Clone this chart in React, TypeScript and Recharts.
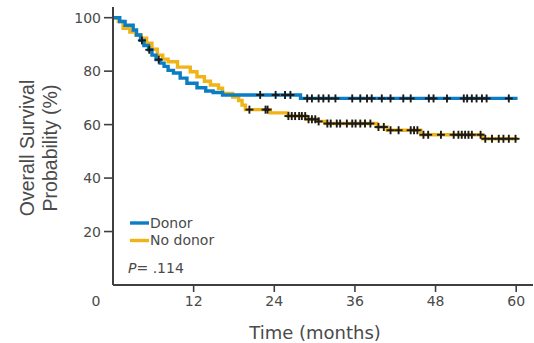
import React from "react";
import { ComposedChart, Line, Scatter, XAxis, YAxis } from "recharts";

// Kaplan–Meier step points (months, survival %)
const donorTimes = [0, 1.0, 1.8, 3.0, 3.5, 4.1, 4.6, 5.3, 5.8, 6.4, 7.0, 7.6, 8.2, 9.0, 10.0, 11.0, 12.5, 13.8, 14.9, 16.3, 27.9, 60.2];
const donorSurv = [100, 98.6, 97.2, 95.4, 93.5, 91.5, 89.6, 88.0, 86.0, 84.3, 83.0, 81.8, 80.3, 79.3, 77.4, 75.5, 73.8, 72.6, 72.0, 71.1, 69.8, 69.8];
const donorCensored = [4.3, 5.4, 6.8, 21.9, 24.2, 25.6, 26.4, 28.9, 29.6, 30.6, 31.3, 32.1, 33.1, 35.6, 36.8, 37.8, 38.5, 40.0, 41.3, 43.2, 44.3, 47.0, 47.7, 49.7, 52.2, 52.7, 53.4, 54.1, 54.9, 55.6, 58.9];

const noDonorTimes = [0, 0.8, 1.5, 2.5, 3.4, 4.2, 5.0, 5.8, 6.6, 7.4, 8.2, 9.6, 11.5, 12.5, 13.6, 14.5, 15.7, 16.3, 17.8, 18.7, 19.2, 19.7, 23.4, 26.0, 28.7, 30.5, 31.6, 39.3, 40.8, 45.8, 55.0, 60.2];
const noDonorSurv = [100, 98.6, 96.0, 94.6, 93.5, 92.3, 90.5, 88.2, 86.0, 84.5, 83.5, 81.5, 79.8, 77.9, 76.2, 74.8, 73.6, 71.7, 70.3, 69.0, 67.3, 65.6, 64.4, 63.2, 62.0, 61.2, 60.4, 59.1, 57.9, 56.2, 54.7, 54.7];
const noDonorCensored = [20.3, 22.7, 23.0, 26.1, 26.6, 27.1, 27.7, 28.1, 28.6, 29.1, 29.6, 30.1, 30.6, 31.9, 32.4, 33.3, 33.8, 34.8, 35.6, 36.1, 36.8, 37.5, 38.3, 39.5, 40.3, 41.3, 42.5, 44.3, 44.8, 45.3, 46.2, 46.9, 48.8, 50.7, 51.4, 51.9, 52.4, 52.9, 53.4, 54.7, 55.4, 56.4, 57.4, 58.1, 58.9, 59.9];

const xTicks = [0, 12, 24, 36, 48, 60];
const yTicks = [20, 40, 60, 80, 100];

const BLUE = "#0b7dc5";
const YELLOW = "#f1b418";
const AXIS = "#3f3f3f";
const TEXT = "#4a4a4a";
const FONT = "'DejaVu Sans', sans-serif";

const toPoints = (ts: number[], ss: number[]) => ts.map((t, i) => ({ t, v: ss[i] }));
const survAt = (ts: number[], ss: number[], t: number) => {
  let v = ss[0];
  for (let i = 0; i < ts.length; i++) if (ts[i] <= t) v = ss[i];
  return v;
};

const donorData = toPoints(donorTimes, donorSurv);
const noDonorData = toPoints(noDonorTimes, noDonorSurv);
const donorCens = donorCensored.map((t) => ({ t, v: survAt(donorTimes, donorSurv, t) }));
const noDonorCens = noDonorCensored.map((t) => ({ t, v: survAt(noDonorTimes, noDonorSurv, t) }));

const Cross = (props: any) => {
  const { cx, cy } = props;
  if (cx == null || cy == null) return null;
  return (
    <g stroke="#1a1a1a" strokeWidth={1.9}>
      <line x1={cx - 4} y1={cy} x2={cx + 4} y2={cy} />
      <line x1={cx} y1={cy - 4} x2={cx} y2={cy + 4} />
    </g>
  );
};

const XTick = (props: any) => {
  const { x, y, payload } = props;
  const v = payload.value;
  return (
    <g>
      {v !== 0 && <line x1={x} y1={y - 11} x2={x} y2={y - 4} stroke={AXIS} strokeWidth={1.6} />}
      <text x={v === 0 ? x - 17 : x} y={y} dy="0.71em" textAnchor="middle" fontSize={14} fontFamily={FONT} fill={TEXT}>
        {v}
      </text>
    </g>
  );
};

export default function App() {
  return (
    <div style={{ position: "absolute", left: 0, top: 0, width: 534, height: 343, background: "#fff" }}>
      <ComposedChart width={534} height={343} margin={{ top: 7, right: 1, bottom: 0, left: 0 }}>
        <XAxis
          dataKey="t"
          type="number"
          domain={[0, 62.5]}
          ticks={xTicks}
          allowDataOverflow
          height={58}
          tickSize={7}
          tickMargin={4}
          tickLine={false}
          axisLine={{ stroke: AXIS, strokeWidth: 2 }}
          tick={<XTick />}
          interval={0}
        />
        <YAxis
          dataKey="v"
          type="number"
          domain={[0, 104]}
          ticks={yTicks}
          allowDataOverflow
          width={113}
          tickSize={9}
          tickMargin={3}
          tickLine={{ stroke: AXIS, strokeWidth: 1.6 }}
          axisLine={{ stroke: AXIS, strokeWidth: 2 }}
          tick={{ fontSize: 14, fontFamily: FONT, fill: TEXT }}
          interval={0}
        />
        <Line data={noDonorData} dataKey="v" type="stepAfter" stroke={YELLOW} strokeWidth={3.4} dot={false} isAnimationActive={false} />
        <Line data={donorData} dataKey="v" type="stepAfter" stroke={BLUE} strokeWidth={3.4} dot={false} isAnimationActive={false} />
        <Scatter data={noDonorCens} dataKey="v" shape={<Cross />} isAnimationActive={false} />
        <Scatter data={donorCens} dataKey="v" shape={<Cross />} isAnimationActive={false} />
      </ComposedChart>
      <svg width={534} height={343} style={{ position: "absolute", left: 0, top: 0, pointerEvents: "none" }}>
        <g fontFamily="'Liberation Sans', Arial, sans-serif" fontSize={19.5} fill={TEXT}>
          <text transform="translate(34,148) rotate(-90)" textAnchor="middle">Overall Survival</text>
          <text transform="translate(57,148) rotate(-90)" textAnchor="middle">Probability (%)</text>
        </g>
        <text x={315} y={339} textAnchor="middle" fontFamily={FONT} fontSize={18} fill={TEXT}>Time (months)</text>
        <line x1={130} y1={223} x2={149} y2={223} stroke={BLUE} strokeWidth={3.4} />
        <line x1={130} y1={240.5} x2={149} y2={240.5} stroke={YELLOW} strokeWidth={3.4} />
        <g fontFamily={FONT} fontSize={14} fill={TEXT}>
          <text x={150} y={227.5}>Donor</text>
          <text x={150} y={244.5}>No donor</text>
          <text x={128} y={273}>
            <tspan fontStyle="italic">P</tspan>= .114
          </text>
        </g>
      </svg>
    </div>
  );
}
